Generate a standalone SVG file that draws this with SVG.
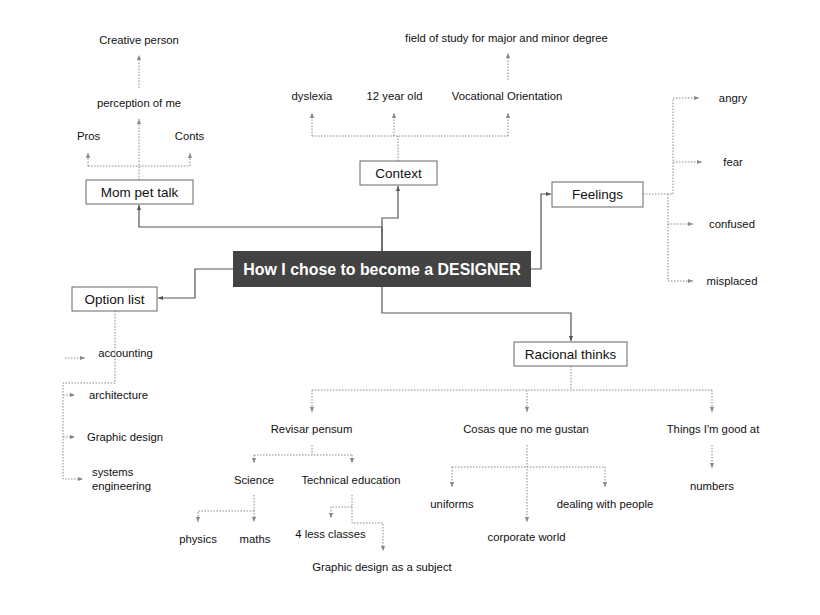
<svg xmlns="http://www.w3.org/2000/svg" width="820" height="615" viewBox="0 0 820 615">
<style>
.box{fill:#fff;stroke:#666;stroke-width:1}
.solid{fill:none;stroke:#555;stroke-width:1.2;marker-end:url(#a)}
.dot{fill:none;stroke:#888;stroke-width:1;stroke-dasharray:1.5 1.5}
.arr{marker-end:url(#d)}
text{font-family:"Liberation Sans",Arial,sans-serif;fill:#111}
.lbl{font-size:11.3px;text-anchor:middle}
.lft{font-size:11.3px;text-anchor:start}
.bt{font-size:13.5px;text-anchor:middle}
.title{font-size:15.9px;font-weight:bold;fill:#fff;text-anchor:middle}
</style>
<defs>
<marker id="a" viewBox="0 0 6 6" refX="6" refY="3" markerWidth="5" markerHeight="5" orient="auto" markerUnits="userSpaceOnUse"><path d="M0,0.5 L6,3 L0,5.5 z" fill="#555"/></marker>
<marker id="d" viewBox="0 0 6 6" refX="6" refY="3" markerWidth="5" markerHeight="5" orient="auto" markerUnits="userSpaceOnUse"><path d="M0,0.5 L6,3 L0,5.5 z" fill="#888"/></marker>
</defs>
<rect width="820" height="615" fill="#fff"/>
<g id="connectors">
<path class="solid" d="M382,251 V227 H139 V205"/>
<path class="solid" d="M382,251 V218 H398 V186"/>
<path class="solid" d="M531,269 H541 V194 H551"/>
<path class="solid" d="M233,269 H195 V298 H158"/>
<path class="solid" d="M382,287 V313 H571 V341"/>
<path class="dot arr" d="M139,180 V119"/>
<path class="dot" d="M88,166 H190"/>
<path class="dot arr" d="M88,166 V153"/>
<path class="dot arr" d="M190,166 V153"/>
<path class="dot arr" d="M139,88 V55"/>
<path class="dot" d="M398,161 V136"/>
<path class="dot" d="M312,136 H508"/>
<path class="dot arr" d="M312,136 V113"/>
<path class="dot arr" d="M394,136 V113"/>
<path class="dot arr" d="M508,136 V113"/>
<path class="dot arr" d="M508,80 V53"/>
<path class="dot arr" d="M643,194 H673 V98 H699"/>
<path class="dot arr" d="M673,162 H702"/>
<path class="dot arr" d="M668,194 V281 H693"/>
<path class="dot arr" d="M668,224 H693"/>
<path class="dot arr" d="M115,311 V383 H63 V479 H83"/>
<path class="dot arr" d="M63,395 H75"/>
<path class="dot arr" d="M63,437 H75"/>
<path class="dot arr" d="M65,358 H85"/>
<path class="dot" d="M571,366 V390"/>
<path class="dot" d="M312,390 H712"/>
<path class="dot arr" d="M312,390 V412"/>
<path class="dot arr" d="M527,390 V412"/>
<path class="dot arr" d="M712,390 V412"/>
<path class="dot arr" d="M712,445 V468"/>
<path class="dot" d="M312,445 V455"/>
<path class="dot" d="M254,455 H352"/>
<path class="dot arr" d="M254,455 V463"/>
<path class="dot arr" d="M352,455 V463"/>
<path class="dot arr" d="M254,495 V522"/>
<path class="dot arr" d="M254,511 H198 V522"/>
<path class="dot arr" d="M352,495 V523 H383 V551"/>
<path class="dot arr" d="M352,507 H331 V518"/>
<path class="dot arr" d="M527,445 V522"/>
<path class="dot" d="M452,467 H605"/>
<path class="dot arr" d="M452,467 V487"/>
<path class="dot arr" d="M605,467 V487"/>
</g>
<g id="center"><rect x="233" y="251" width="298" height="36" fill="#434343"/><text class="title" x="382" y="274.5">How I chose to become a DESIGNER</text></g>
<g id="mom"><rect class="box" x="86" y="180" width="107" height="24"/><text class="bt" x="139.5" y="197">Mom pet talk</text></g>
<g id="context"><rect class="box" x="360" y="161" width="77" height="24"/><text class="bt" x="398.5" y="178">Context</text></g>
<g id="feelings"><rect class="box" x="552" y="182" width="91" height="25"/><text class="bt" x="597.5" y="199">Feelings</text></g>
<g id="option"><rect class="box" x="72" y="287" width="85" height="24"/><text class="bt" x="114.5" y="304">Option list</text></g>
<g id="racional"><rect class="box" x="514" y="342" width="113" height="24"/><text class="bt" x="570.5" y="359">Racional thinks</text></g>
<g id="creative"><text class="lbl" x="139" y="44">Creative person</text></g>
<g id="perception"><text class="lbl" x="139" y="107">perception of me</text></g>
<g id="pros"><text class="lbl" x="88.5" y="140">Pros</text></g>
<g id="conts"><text class="lbl" x="189.5" y="140">Conts</text></g>
<g id="field"><text class="lbl" x="506.5" y="42">field of study for major and minor degree</text></g>
<g id="dyslexia"><text class="lbl" x="312" y="100">dyslexia</text></g>
<g id="age"><text class="lbl" x="394.5" y="100">12 year old</text></g>
<g id="vocational"><text class="lbl" x="507" y="100">Vocational Orientation</text></g>
<g id="angry"><text class="lbl" x="733" y="102">angry</text></g>
<g id="fear"><text class="lbl" x="733" y="166">fear</text></g>
<g id="confused"><text class="lbl" x="732" y="228">confused</text></g>
<g id="misplaced"><text class="lbl" x="732" y="285">misplaced</text></g>
<g id="accounting"><text class="lbl" x="125.5" y="357">accounting</text></g>
<g id="architecture"><text class="lbl" x="118.5" y="399">architecture</text></g>
<g id="graphic"><text class="lbl" x="125" y="441">Graphic design</text></g>
<g id="systems"><text class="lft" x="92" y="476">systems</text><text class="lft" x="92" y="490">engineering</text></g>
<g id="revisar"><text class="lbl" x="311.5" y="433">Revisar pensum</text></g>
<g id="cosas"><text class="lbl" x="526" y="433">Cosas que no me gustan</text></g>
<g id="things"><text class="lbl" x="713" y="433">Things I'm good at</text></g>
<g id="numbers"><text class="lbl" x="712" y="490">numbers</text></g>
<g id="science"><text class="lbl" x="254" y="484">Science</text></g>
<g id="technical"><text class="lbl" x="351" y="484">Technical education</text></g>
<g id="physics"><text class="lbl" x="198" y="543">physics</text></g>
<g id="maths"><text class="lbl" x="255" y="543">maths</text></g>
<g id="less"><text class="lbl" x="330.5" y="538">4 less classes</text></g>
<g id="gdsubject"><text class="lbl" x="382" y="571">Graphic design as a subject</text></g>
<g id="uniforms"><text class="lbl" x="452" y="508">uniforms</text></g>
<g id="dealing"><text class="lbl" x="605" y="508">dealing with people</text></g>
<g id="corporate"><text class="lbl" x="526.5" y="541">corporate world</text></g>
</svg>
